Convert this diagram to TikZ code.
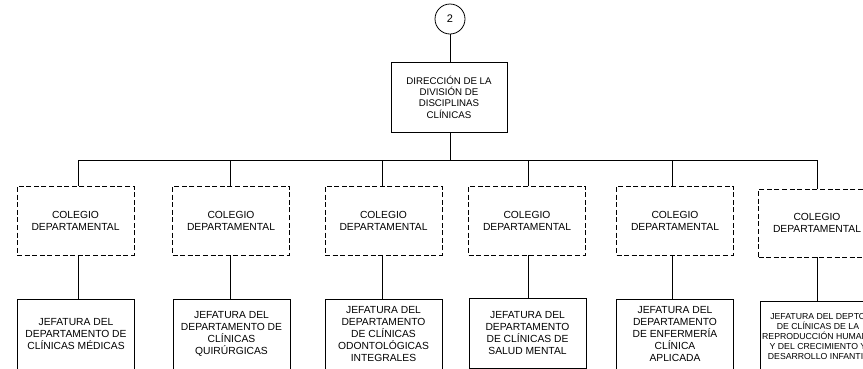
\documentclass[tikz,border=0pt]{standalone}
\usepackage{fontspec}
\setmainfont{Liberation Sans}
\begin{document}
\begin{tikzpicture}[x=1pt,y=-1pt,
  every node/.style={inner sep=0pt, outer sep=0pt, align=center},
  conn/.style={draw=black, line width=0.8pt},
  topbox/.style={draw=black, line width=0.8pt, rectangle, minimum width=116pt, minimum height=70pt, font=\fontsize{9.7}{11.3}\selectfont},
  colbox/.style={draw=black, line width=0.8pt, dash pattern=on 5pt off 2.6pt, rectangle, minimum width=117pt, minimum height=69pt, font=\fontsize{10.3}{12}\selectfont},
  jefbox/.style={draw=black, line width=0.8pt, rectangle, minimum width=117pt, minimum height=70pt, font=\fontsize{10.3}{12}\selectfont},
  smallbox/.style={jefbox, font=\fontsize{8.7}{10}\selectfont},
  numcirc/.style={draw=black, line width=0.8pt, circle, minimum size=30pt, font=\fontsize{11}{13}\selectfont}]
\useasboundingbox (0,0) rectangle (863,368);
\clip (0,0) rectangle (863,368);
\fill[white] (0,0) rectangle (863,368);

\node[numcirc] (n2) at (450,19) {2};
\node[topbox] (dir) at (449,97) {DIRECCIÓN DE LA\\DIVISIÓN DE\\DISCIPLINAS\\CLÍNICAS};

\coordinate (bus) at (450,160);
\coordinate (b1) at (78,160);
\coordinate (b2) at (230,160);
\coordinate (b3) at (382,160);
\coordinate (b4) at (528,160);
\coordinate (b5) at (672,160);
\coordinate (b6) at (817,160);

\node[colbox] (c1) at (75.5,220.5) {COLEGIO\\DEPARTAMENTAL};
\node[colbox] (c2) at (231,220.5) {COLEGIO\\DEPARTAMENTAL};
\node[colbox] (c3) at (383.5,220.5) {COLEGIO\\DEPARTAMENTAL};
\node[colbox] (c4) at (527,220.5) {COLEGIO\\DEPARTAMENTAL};
\node[colbox] (c5) at (675,220.5) {COLEGIO\\DEPARTAMENTAL};
\node[colbox, minimum height=68pt] (c6) at (817,223) {COLEGIO\\DEPARTAMENTAL};

\node[jefbox] (j1) at (76,334) {JEFATURA DEL\\DEPARTAMENTO DE\\CLÍNICAS MÉDICAS};
\node[jefbox] (j2) at (231.5,334) {JEFATURA DEL\\DEPARTAMENTO DE\\CLÍNICAS\\QUIRÚRGICAS};
\node[jefbox] (j3) at (383.5,334) {JEFATURA DEL\\DEPARTAMENTO\\DE CLÍNICAS\\ODONTOLÓGICAS\\INTEGRALES};
\node[jefbox] (j4) at (527.5,333) {JEFATURA DEL\\DEPARTAMENTO\\DE CLÍNICAS DE\\SALUD MENTAL};
\node[jefbox] (j5) at (675,334) {JEFATURA DEL\\DEPARTAMENTO\\DE ENFERMERÍA\\CLÍNICA\\APLICADA};
\node[smallbox, minimum width=115pt] (j6) at (818,336) {JEFATURA DEL DEPTO\\DE CLÍNICAS DE LA\\REPRODUCCIÓN HUMANA\\Y DEL CRECIMIENTO Y\\DESARROLLO INFANTIL};

\draw[conn] (n2.south) -- (n2.south |- dir.north);
\draw[conn] (dir.south -| n2) -- (bus);
\draw[conn] (b1) -- (b6);
\foreach \i in {1,...,6}{
  \draw[conn] (b\i) -- (b\i |- c\i.north);
  \draw[conn] (b\i |- c\i.south) -- (b\i |- j\i.north);
}
\end{tikzpicture}
\end{document}
